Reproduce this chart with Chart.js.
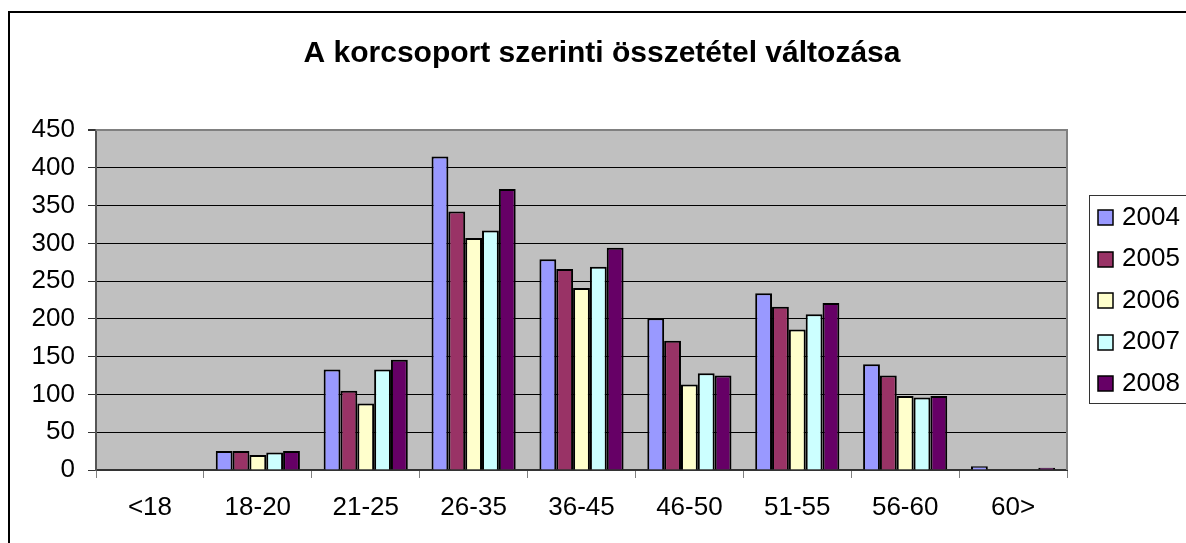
<!DOCTYPE html>
<html>
<head>
<meta charset="utf-8">
<title>A korcsoport szerinti összetétel változása</title>
<script src="https://cdn.jsdelivr.net/npm/chart.js@4/dist/chart.umd.min.js"></script>
<style>
    html, body { margin: 0; padding: 0; background: #fff; }
    canvas { display: block; }
</style>
</head>
<body>
<canvas id="ageChart" width="1186" height="543"></canvas>
<script>
// Data
const categories = ['<18', '18-20', '21-25', '26-35', '36-45', '46-50', '51-55', '56-60', '60>'];
const years = ['2004', '2005', '2006', '2007', '2008'];
const v2004 = [0, 25, 133, 415, 279, 201, 234, 140, 5];
const v2005 = [0, 25, 105, 342, 266, 171, 216, 125, 0];
const v2006 = [0, 20, 88, 307, 241, 113, 186, 98, 0];
const v2007 = [0, 23, 133, 317, 269, 128, 206, 96, 0];
const v2008 = [0, 25, 146, 372, 294, 125, 221, 98, 3];
const yTicks = [0, 50, 100, 150, 200, 250, 300, 350, 400, 450];
const chartTitle = 'A korcsoport szerinti összetétel változása';

const seriesValues = [v2004, v2005, v2006, v2007, v2008];
const seriesColors = ['#9999FF', '#993366', '#FFFFCC', '#CCFFFF', '#660066'];

const FONT = '"Liberation Sans", Arial, sans-serif';

// Frame, title, grey plot area and the boxed legend on the right
const excelLook = {
    id: 'excelLook',
    beforeDraw(chart) {
        const { ctx, chartArea: a } = chart;
        ctx.save();
        ctx.fillStyle = '#fff';
        ctx.fillRect(0, 0, chart.width, chart.height);
        ctx.fillStyle = '#C0C0C0';
        ctx.fillRect(a.left, a.top, a.right - a.left, a.bottom - a.top);

        // outer chart border (runs off the right and bottom edges)
        ctx.strokeStyle = '#000';
        ctx.lineWidth = 2;
        ctx.strokeRect(9, 12, 1200, 560);

        // title is centred on the whole chart, not the plot area
        ctx.fillStyle = '#000';
        ctx.font = 'bold 30px ' + FONT;
        ctx.textAlign = 'center';
        ctx.textBaseline = 'alphabetic';
        ctx.fillText(chartTitle, 602, 62);
        ctx.restore();
    },
    beforeDatasetsDraw(chart) {
        const { ctx, chartArea: a } = chart;
        ctx.save();
        ctx.strokeStyle = '#808080';
        ctx.lineWidth = 2;
        ctx.beginPath();
        ctx.moveTo(a.left, a.top);
        ctx.lineTo(a.right, a.top);
        ctx.lineTo(a.right, a.bottom);
        ctx.stroke();
        ctx.restore();
    },
    afterDraw(chart) {
        const { ctx } = chart;
        ctx.save();
        ctx.strokeStyle = '#333';
        ctx.lineWidth = 1;
        ctx.strokeRect(1089.5, 195.5, 120, 208);

        ctx.font = '26px ' + FONT;
        ctx.textBaseline = 'middle';
        ctx.textAlign = 'left';
        chart.data.datasets.forEach((ds, i) => {
            const y = 217.5 + i * 41.6;
            ctx.fillStyle = ds.backgroundColor;
            ctx.fillRect(1098, Math.round(y - 7.5), 15, 15);
            ctx.strokeStyle = '#000';
            ctx.lineWidth = 1.5;
            ctx.strokeRect(1098, Math.round(y - 7.5), 15, 15);
            ctx.fillStyle = '#000';
            ctx.fillText(ds.label, 1122, y);
        });
        ctx.restore();
    }
};

const chart = new Chart(document.getElementById('ageChart').getContext('2d'), {
    type: 'bar',
    data: {
        labels: categories,
        datasets: years.map((year, i) => ({
            label: year,
            data: seriesValues[i],
            backgroundColor: seriesColors[i],
            borderColor: '#000',
            borderWidth: 2,
            categoryPercentage: 0.78,
            barPercentage: 1.0
        }))
    },
    options: {
        responsive: false,
        animation: false,
        layout: { padding: { left: 0, right: 119, top: 130, bottom: 0 } },
        plugins: {
            legend: { display: false },
            tooltip: { enabled: false },
            title: { display: false }
        },
        scales: {
            x: {
                afterFit: (scale) => { scale.height = 73; },
                grid: {
                    display: true,
                    drawOnChartArea: false,
                    offset: true,
                    tickLength: 8,
                    tickColor: '#808080'
                },
                border: { color: '#333', width: 2 },
                ticks: {
                    color: '#000',
                    padding: 14,
                    font: { family: FONT, size: 26 }
                }
            },
            y: {
                min: 0,
                max: 450,
                afterFit: (scale) => { scale.width = 96; },
                afterBuildTicks: (scale) => { scale.ticks = yTicks.map(v => ({ value: v })); },
                grid: {
                    color: (c) => (c.tick && c.tick.value === 450 ? '#808080' : '#000'),
                    lineWidth: (c) => (c.tick && c.tick.value === 450 ? 2 : 1),
                    tickLength: 8,
                    tickColor: '#333'
                },
                border: { color: '#555', width: 2 },
                ticks: {
                    color: '#000',
                    padding: 13,
                    font: { family: FONT, size: 26 }
                }
            }
        }
    },
    plugins: [excelLook]
});
</script>
</body>
</html>
